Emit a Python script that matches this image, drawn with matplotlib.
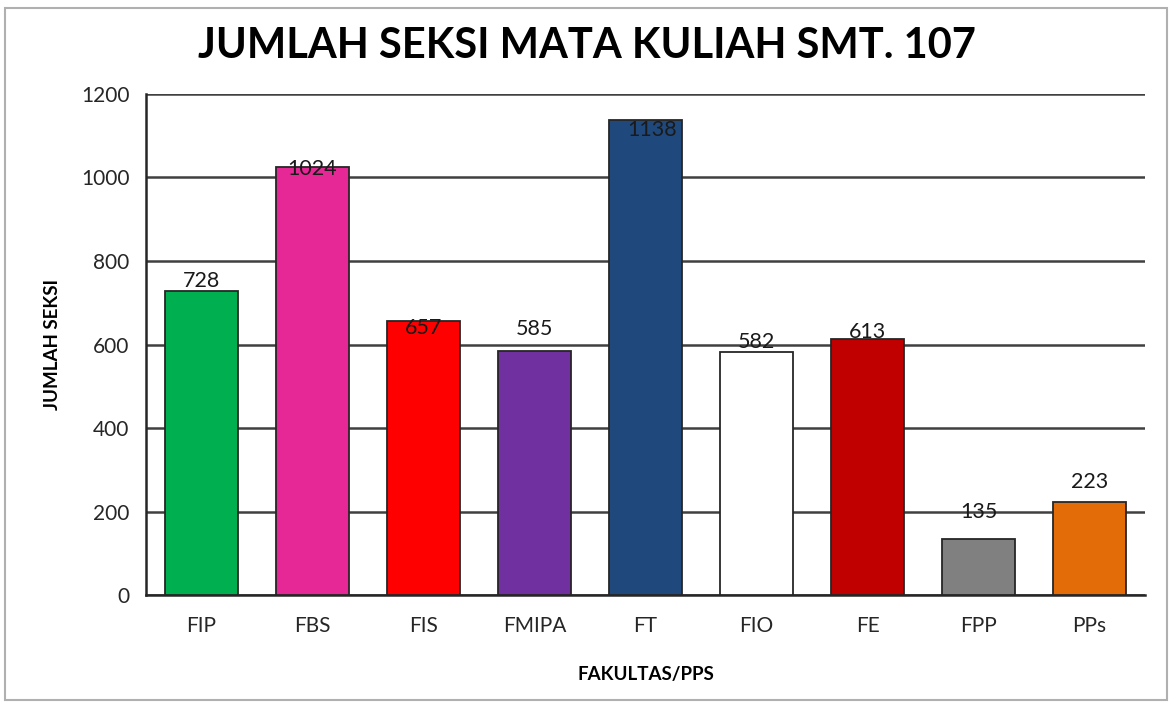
import matplotlib
matplotlib.use('Agg')
import matplotlib.pyplot as plt
from matplotlib.patches import Rectangle

plt.rcParams['font.family'] = ['Lato', 'DejaVu Sans']

fakultas = ['FIP', 'FBS', 'FIS', 'FMIPA', 'FT', 'FIO', 'FE', 'FPP', 'PPs']
jumlah = [728, 1024, 657, 585, 1138, 582, 613, 135, 223]
warna = ['#00B050', '#E62896', '#FF0000', '#7030A0', '#1F497D',
         '#FFFFFF', '#C00000', '#808080', '#E36C09']
yticks = [0, 200, 400, 600, 800, 1000, 1200]

# label offsets in points (x, y) - excel put them in odd places
lbl_off = [(0, 7), (0, -1), (0, -5), (0, 16), (5, -7), (0, 7), (0, 5), (0, 19), (0, 14)]

fig = plt.figure(figsize=(11.74, 7.04), dpi=100)
ax = fig.add_axes([0.1244, 0.1548, 0.8509, 0.7117])

bars = ax.bar(range(len(fakultas)), jumlah, width=0.65, color=warna,
              edgecolor='#262626', linewidth=1.3, zorder=3)

for b, v, (dx, dy) in zip(bars, jumlah, lbl_off):
    ax.annotate(str(v), (b.get_x() + b.get_width() / 2, v), xytext=(dx, dy),
                textcoords='offset points', ha='center', va='center',
                fontsize=15.5, color='#1a1a1a', zorder=4)

ax.set_ylim(0, 1200)
ax.set_xlim(-0.5, len(fakultas) - 0.5)
ax.set_yticks(yticks)
ax.set_xticks(range(len(fakultas)))
ax.set_xticklabels(fakultas)
ax.tick_params(axis='both', length=0, labelsize=15, colors='#262626')
ax.tick_params(axis='y', pad=12)
ax.tick_params(axis='x', pad=15)
ax.yaxis.grid(True, color='#404040', linewidth=1.8, zorder=0)
ax.set_axisbelow(True)

for s in ['top', 'right']:
    ax.spines[s].set_visible(False)
ax.spines['left'].set_color('#262626')
ax.spines['bottom'].set_color('#262626')
ax.spines['left'].set_linewidth(1.8)
ax.spines['bottom'].set_linewidth(1.8)

ax.set_ylabel('JUMLAH SEKSI', fontsize=13.5, fontweight='bold', labelpad=14)
ax.set_xlabel('FAKULTAS/PPS', fontsize=13.5, fontweight='bold', labelpad=22)
fig.suptitle('JUMLAH SEKSI MATA KULIAH SMT. 107', fontsize=30, fontweight='bold',
             x=0.5, y=0.962, va='top')

fig.patches.append(Rectangle((0.004, 0.006), 0.99, 0.982, transform=fig.transFigure,
                             fill=False, edgecolor='#b0b0b0', linewidth=1.5))

fig.savefig('out.png', dpi=100)
